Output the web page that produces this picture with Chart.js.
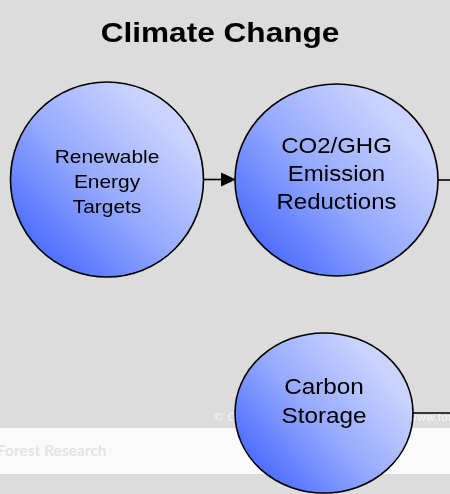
<!DOCTYPE html>
<html>
<head>
<meta charset="utf-8">
<script src="https://cdn.jsdelivr.net/npm/chart.js@4/dist/chart.umd.min.js"></script>
<style>
  html, body { margin: 0; padding: 0; background: #dcdcdc; }
  canvas { display: block; }
</style>
</head>
<body>
<canvas id="diagram" width="450" height="494"></canvas>
<script>
// nodes of the diagram (in page units)
const nodeLabels = [
  ['Renewable', 'Energy', 'Targets'],
  ['CO2/GHG', 'Emission', 'Reductions'],
  ['Carbon', 'Storage']
];
const nodeX = [107, 336.5, 324];
const nodeY = [179.5, 180, 413];
const nodeRx = [96.5, 101.5, 89];
const nodeRy = [97.5, 96, 80];
const nodeFontSize = [18.5, 22, 21.5];
const nodeLineHeight = [25, 28, 29];
const nodeTextStretch = [1.13, 1.09, 1.13];
const nodeTextShift = [3.5, -5, -10.5];

// links: from node, to node (null = runs off the right edge), arrow head or not
const linkFrom = [0, 1, 2];
const linkTo = [1, null, null];
const linkArrow = [true, false, false];

const chartTitle = 'Climate Change';

const diagramPlugin = {
  id: 'diagram',
  beforeDraw(chart) {
    const ctx = chart.ctx;
    ctx.save();
    ctx.fillStyle = '#dcdcdc';
    ctx.fillRect(0, 0, chart.width, chart.height);
    ctx.restore();
  },
  beforeDatasetsDraw(chart) {
    const ctx = chart.ctx;
    const x = chart.scales.x, y = chart.scales.y;
    ctx.save();
    // title (the source font is a slightly wide Arial bold)
    ctx.save();
    ctx.translate(x.getPixelForValue(220), y.getPixelForValue(41.5));
    ctx.scale(1.17, 1);
    ctx.fillStyle = '#000';
    ctx.font = 'bold 27px "Liberation Sans", Arial, sans-serif';
    ctx.textAlign = 'center';
    ctx.textBaseline = 'alphabetic';
    ctx.fillText(chartTitle, 0, 0);
    ctx.restore();

    // white footer band with faint watermark
    const bandTop = y.getPixelForValue(428), bandBot = y.getPixelForValue(474);
    ctx.fillStyle = '#fafafa';
    ctx.fillRect(0, bandTop, chart.width, bandBot - bandTop);
    ctx.fillStyle = '#e3e3e3';
    ctx.font = 'bold 15.5px Lato';
    ctx.textBaseline = 'middle';
    ctx.fillText('Forest Research', -3, (bandTop + bandBot) / 2);
    ctx.fillStyle = 'rgba(255,255,255,0.8)';
    ctx.font = '11px "DejaVu Sans"';
    ctx.fillText('\u00a9 Crown copyright', x.getPixelForValue(213), y.getPixelForValue(418));
    ctx.fillText('www.forestresearch.gov.uk', x.getPixelForValue(408), y.getPixelForValue(418));

    // links
    ctx.strokeStyle = '#000';
    ctx.fillStyle = '#000';
    ctx.lineWidth = 1.6;
    linkFrom.forEach((f, i) => {
      const py = y.getPixelForValue(nodeY[f]);
      const x0 = x.getPixelForValue(nodeX[f] + nodeRx[f]);
      let x1 = linkTo[i] === null ? chart.width : x.getPixelForValue(nodeX[linkTo[i]] - nodeRx[linkTo[i]]);
      ctx.beginPath();
      ctx.moveTo(x0, py);
      ctx.lineTo(linkArrow[i] ? x1 - 12 : x1, py);
      ctx.stroke();
      if (linkArrow[i]) {
        ctx.beginPath();
        ctx.moveTo(x1 + 1, py);
        ctx.lineTo(x1 - 14, py - 7);
        ctx.lineTo(x1 - 14, py + 7);
        ctx.closePath();
        ctx.fill();
      }
    });

    // nodes
    nodeLabels.forEach((lines, i) => {
      const cx = x.getPixelForValue(nodeX[i]);
      const cy = y.getPixelForValue(nodeY[i]);
      const rx = x.getPixelForValue(nodeX[i] + nodeRx[i]) - cx;
      const ry = Math.abs(y.getPixelForValue(nodeY[i] + nodeRy[i]) - cy);
      const g = ctx.createLinearGradient(cx - rx * 0.75, cy + ry * 0.75, cx + rx * 0.6, cy - ry * 0.6);
      g.addColorStop(0, '#4a6bff');
      g.addColorStop(0.5, '#95a9ff');
      g.addColorStop(1, '#cad4ff');
      ctx.beginPath();
      ctx.ellipse(cx, cy, rx, ry, 0, 0, Math.PI * 2);
      ctx.fillStyle = g;
      ctx.fill();
      ctx.lineWidth = 1.6;
      ctx.strokeStyle = '#000';
      ctx.stroke();

      const lh = nodeLineHeight[i];
      const start = cy - lh * (lines.length - 1) / 2 + nodeTextShift[i];
      ctx.save();
      ctx.translate(cx, start);
      ctx.scale(nodeTextStretch[i], 1);
      ctx.fillStyle = '#000';
      ctx.font = nodeFontSize[i] + 'px "Liberation Sans", Arial, sans-serif';
      ctx.textAlign = 'center';
      ctx.textBaseline = 'middle';
      lines.forEach((t, k) => ctx.fillText(t, 0, k * lh));
      ctx.restore();
    });
    ctx.restore();
  }
};

new Chart(document.getElementById('diagram'), {
  type: 'bubble',
  data: {
    datasets: [{
      data: nodeX.map((v, i) => ({ x: v, y: nodeY[i], r: 0 })),
      backgroundColor: 'rgba(0,0,0,0)',
      borderWidth: 0
    }]
  },
  options: {
    responsive: false,
    animation: false,
    events: [],
    layout: { padding: 0 },
    scales: {
      x: { type: 'linear', min: 0, max: 450, display: false },
      y: { type: 'linear', min: 0, max: 494, reverse: true, display: false }
    },
    plugins: {
      legend: { display: false },
      tooltip: { enabled: false },
      title: { display: false }
    }
  },
  plugins: [diagramPlugin]
});
</script>
</body>
</html>
